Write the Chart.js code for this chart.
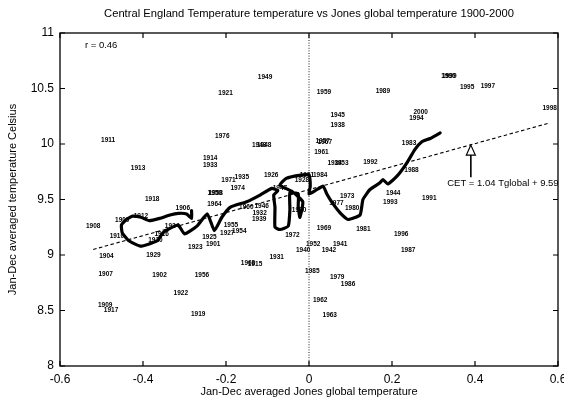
<!DOCTYPE html>
<html>
<head>
<meta charset="utf-8">
<script src="https://cdn.jsdelivr.net/npm/chart.js@4.4.1/dist/chart.umd.min.js"></script>
<style>
  html, body { margin: 0; padding: 0; background: #fff; }
  #wrap { width: 564px; height: 403px; }
</style>
</head>
<body>
<div id="wrap"><canvas id="c" width="564" height="403"></canvas></div>
<script>
// Annual values: year label, Jones global anomaly (x), CET mean (y)
const years = [1900,1901,1902,1904,1906,1907,1908,1909,1910,1911,1912,1913,1914,1915,1916,1917,1918,1919,1920,
  1921,1922,1923,1924,1925,1926,1927,1928,1929,1931,1932,1933,1934,1935,1938,1939,1940,1941,1942,1943,1944,1945,
  1946,1947,1948,1949,1950,1951,1952,1953,1954,1955,1956,1957,1958,1959,1960,1961,1962,1963,1964,1967,1968,1969,
  1970,1971,1972,1973,1974,1976,1977,1979,1980,1981,1983,1984,1985,1986,1987,1988,1989,1990,1991,1992,1993,1994,
  1995,1996,1997,1998,1999,2000];
const globalT = [-0.45,-0.231,-0.36,-0.488,-0.304,-0.49,-0.52,-0.491,-0.463,-0.484,-0.405,-0.412,-0.238,-0.13,-0.355,-0.477,-0.378,-0.267,-0.37,
  -0.201,-0.309,-0.274,-0.33,-0.24,-0.091,-0.197,-0.017,-0.375,-0.078,-0.119,-0.238,0.062,-0.162,0.069,-0.12,-0.014,0.075,0.048,-0.12,0.203,0.069,
  -0.114,-0.07,-0.108,-0.106,-0.227,-0.005,0.01,0.078,-0.168,-0.188,-0.258,0.033,-0.225,0.036,-0.151,0.03,0.027,0.05,-0.228,0.038,-0.147,0.036,
  -0.024,-0.194,-0.04,0.092,-0.172,-0.209,0.066,0.068,0.104,0.131,0.241,0.027,0.008,0.094,0.239,0.247,0.178,0.336,0.29,0.148,0.196,0.259,
  0.381,0.222,0.431,0.58,0.338,0.269];
const cetT = [9.31,9.10,8.82,8.99,9.42,8.83,9.26,8.545,9.17,10.036,9.35,9.78,9.87,8.92,9.19,8.505,9.50,8.47,9.13,
  10.454,8.66,9.07,9.26,9.16,9.72,9.20,9.67,9.00,8.98,9.38,9.81,9.83,9.70,10.17,9.32,9.04,9.10,9.04,9.985,9.56,10.26,
  9.44,9.60,9.99,10.60,9.56,9.72,9.10,9.83,9.21,9.27,8.82,10.025,9.56,10.47,9.43,9.93,8.59,8.46,9.46,10.02,8.93,9.24,
  9.40,9.67,9.18,9.53,9.60,10.07,9.47,8.80,9.42,9.23,10.01,9.72,8.85,8.74,9.04,9.76,10.48,10.61,9.51,9.84,9.48,10.23,
  10.51,9.19,10.52,10.32,10.61,10.29];

// Smoothed trajectory (running mean, in time order)
const meanX = [-0.283,-0.283,-0.295,-0.315,-0.335,-0.36,-0.385,-0.405,-0.425,-0.44,-0.452,-0.45,-0.435,-0.407,-0.385,-0.365,
  -0.352,-0.335,-0.315,-0.30,-0.27,-0.245,-0.228,-0.21,-0.19,-0.15,-0.118,-0.09,-0.075,-0.085,-0.082,-0.082,-0.07,-0.05,
  -0.046,-0.046,-0.026,-0.026,-0.022,-0.015,-0.04,-0.07,-0.055,-0.02,0.0,0.003,0.0,0.015,0.034,0.043,0.058,0.075,0.094,
  0.123,0.13,0.147,0.171,0.178,0.19,0.212,0.236,0.255,0.272,0.292,0.316];
const meanY = [9.40,9.33,9.37,9.375,9.36,9.33,9.31,9.34,9.35,9.32,9.27,9.20,9.13,9.08,9.10,9.13,
  9.20,9.24,9.27,9.19,9.26,9.37,9.22,9.34,9.43,9.48,9.54,9.60,9.58,9.54,9.43,9.25,9.23,9.26,
  9.41,9.56,9.55,9.44,9.34,9.48,9.57,9.63,9.69,9.72,9.72,9.62,9.55,9.58,9.62,9.55,9.46,9.38,9.32,
  9.36,9.50,9.59,9.65,9.68,9.64,9.71,9.83,9.95,10.02,10.05,10.10];

// Least-squares fit end points
const fitX = [-0.52, 0.58];
const fitY = [9.05, 10.19];

// Zero line of the global anomaly
const zeroX = [0, 0];
const zeroY = [8, 11];

// Fit annotation: arrow tip / tail and text anchor
const arrowX = [0.39, 0.39];
const arrowY = [9.99, 9.70];
const eqText = 'CET = 1.04 Tglobal + 9.59';
const eqPos = [0.333, 9.645];
const rText = 'r = 0.46';
const rPos = [-0.54, 10.89];

const xTicks = [-0.6, -0.4, -0.2, 0, 0.2, 0.4, 0.6];
const yTicks = [8, 8.5, 9, 9.5, 10, 10.5, 11];

const titleText = 'Central England Temperature temperature vs Jones global temperature 1900-2000';
const xTitle = 'Jan-Dec averaged Jones global temperature';
const yTitle = 'Jan-Dec averaged temperature Celsius';

const FONT = '"Liberation Sans", Arial, Helvetica, sans-serif';

const pts = (xs, ys) => xs.map((x, i) => ({ x: x, y: ys[i] }));

const decor = {
  id: 'decor',
  beforeDatasetsDraw(chart) {
    const ctx = chart.ctx;
    const meta = chart.getDatasetMeta(3);
    ctx.save();
    ctx.font = 'bold 6.5px ' + FONT;
    ctx.fillStyle = '#000';
    ctx.textAlign = 'center';
    ctx.textBaseline = 'middle';
    meta.data.forEach((el, i) => ctx.fillText(String(years[i]), el.x, el.y));
    ctx.restore();
  },
  afterDraw(chart) {
    const ctx = chart.ctx;
    const a = chart.chartArea;
    const xs = chart.scales.x, ys = chart.scales.y;
    ctx.save();
    // frame
    ctx.strokeStyle = '#000';
    ctx.lineWidth = 1.3;
    ctx.strokeRect(a.left, a.top, a.right - a.left, a.bottom - a.top);
    // inward ticks on all four sides
    ctx.lineWidth = 1.2;
    ctx.beginPath();
    xTicks.forEach(v => {
      const p = xs.getPixelForValue(v);
      ctx.moveTo(p, a.bottom); ctx.lineTo(p, a.bottom - 5);
      ctx.moveTo(p, a.top); ctx.lineTo(p, a.top + 5);
    });
    yTicks.forEach(v => {
      const p = ys.getPixelForValue(v);
      ctx.moveTo(a.left, p); ctx.lineTo(a.left + 5, p);
      ctx.moveTo(a.right, p); ctx.lineTo(a.right - 5, p);
    });
    ctx.stroke();

    // title
    ctx.fillStyle = '#000';
    ctx.textAlign = 'center';
    ctx.textBaseline = 'middle';
    ctx.font = '11.2px ' + FONT;
    ctx.fillText(titleText, (a.left + a.right) / 2, 14);

    // correlation
    ctx.textAlign = 'left';
    ctx.font = '9.5px ' + FONT;
    ctx.fillText(rText, xs.getPixelForValue(rPos[0]), ys.getPixelForValue(rPos[1]));

    // equation
    ctx.fillText(eqText, xs.getPixelForValue(eqPos[0]), ys.getPixelForValue(eqPos[1]));

    // arrow with open head
    const ax = xs.getPixelForValue(arrowX[0]);
    const tipY = ys.getPixelForValue(arrowY[0]);
    const tailY = ys.getPixelForValue(arrowY[1]);
    ctx.lineWidth = 1.6;
    ctx.beginPath();
    ctx.moveTo(ax, tailY); ctx.lineTo(ax, tipY + 10);
    ctx.stroke();
    ctx.lineWidth = 1.2;
    ctx.beginPath();
    ctx.moveTo(ax, tipY);
    ctx.lineTo(ax - 4.5, tipY + 10);
    ctx.lineTo(ax + 4.5, tipY + 10);
    ctx.closePath();
    ctx.fillStyle = '#fff';
    ctx.fill();
    ctx.stroke();
    ctx.restore();
  }
};

new Chart(document.getElementById('c'), {
  type: 'scatter',
  data: {
    datasets: [
      { // running mean trajectory
        data: pts(meanX, meanY), showLine: true, borderColor: '#000', borderWidth: 3.2,
        pointRadius: 0, tension: 0.15, borderJoinStyle: 'round', borderCapStyle: 'round', fill: false
      },
      { // regression line
        data: pts(fitX, fitY), showLine: true, borderColor: '#000', borderWidth: 1.1,
        borderDash: [3.5, 2.5], pointRadius: 0, fill: false
      },
      { // zero line
        data: pts(zeroX, zeroY), showLine: true, borderColor: '#222', borderWidth: 1,
        borderDash: [1, 1.6], pointRadius: 0, fill: false
      },
      { // year positions
        data: pts(globalT, cetT), showLine: false, pointRadius: 0, pointHoverRadius: 0
      }
    ]
  },
  options: {
    responsive: false,
    animation: false,
    devicePixelRatio: 1,
    layout: { padding: { top: 33, right: 6, left: 0, bottom: 0 } },
    plugins: { legend: { display: false }, tooltip: { enabled: false }, title: { display: false } },
    events: [],
    scales: {
      x: {
        type: 'linear', min: -0.6, max: 0.6,
        afterBuildTicks: s => { s.ticks = xTicks.map(v => ({ value: v })); },
        afterFit: s => { s.height = 37; s.paddingLeft = 0; s.paddingRight = 0; },
        grid: { display: false, drawTicks: false }, border: { display: false },
        ticks: { color: '#000', font: { family: FONT, size: 12 }, padding: 6, maxRotation: 0,
          callback: v => String(Math.round(v * 10) / 10) },
        title: { display: true, text: xTitle, color: '#000', font: { family: FONT, size: 11 },
          padding: { top: 0, bottom: 4.4 } }
      },
      y: {
        type: 'linear', min: 8, max: 11,
        afterBuildTicks: s => { s.ticks = yTicks.map(v => ({ value: v })); },
        afterFit: s => { s.width = 60; s.paddingTop = 0; s.paddingBottom = 0; },
        grid: { display: false, drawTicks: false }, border: { display: false },
        ticks: { color: '#000', font: { family: FONT, size: 12 }, padding: 6,
          callback: v => String(Math.round(v * 10) / 10) },
        title: { display: true, text: yTitle, color: '#000', font: { family: FONT, size: 11 },
          padding: { top: 6.4, bottom: 0 } }
      }
    }
  },
  plugins: [decor]
});
</script>
</body>
</html>
